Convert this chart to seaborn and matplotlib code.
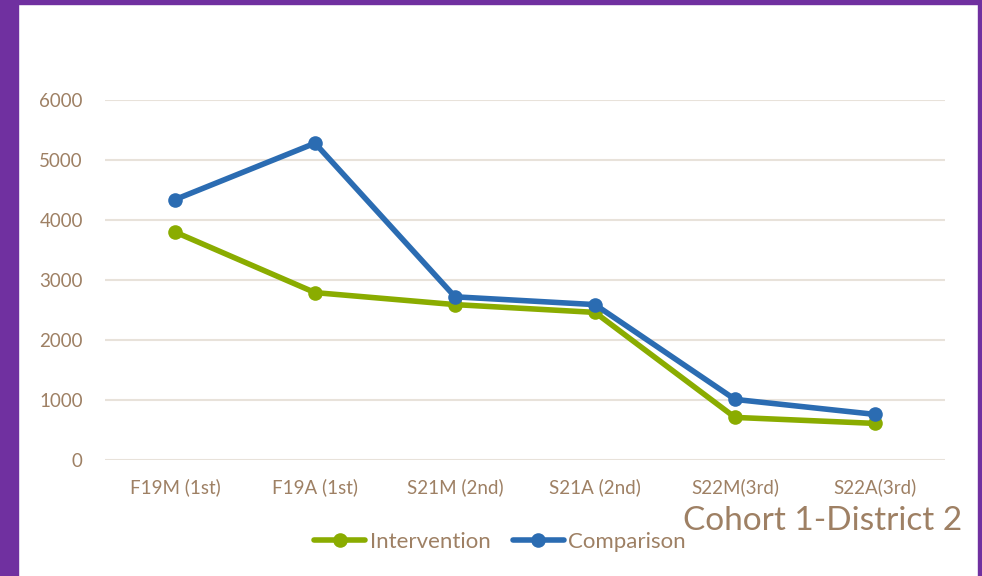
import numpy as np
import pandas as pd
import seaborn as sns
import matplotlib.pyplot as plt
from matplotlib.patches import Rectangle

# Values
categories = ["F19M (1st)", "F19A (1st)", "S21M (2nd)", "S21A (2nd)", "S22M(3rd)", "S22A(3rd)"]
intervention = [3800, 2790, 2590, 2460, 710, 610]
comparison = [4340, 5280, 2720, 2590, 1010, 760]
series_names = ["Intervention", "Comparison"]
y_ticks = [0, 1000, 2000, 3000, 4000, 5000, 6000]

TEXT = "#9E8064"
GRID = "#E8E2DA"
PURPLE = "#7030A0"
palette = {"Intervention": "#8AAC00", "Comparison": "#2B6CB2"}

df = pd.DataFrame({
    "Period": categories * 2,
    "x": list(range(len(categories))) * 2,
    "Value": intervention + comparison,
    "Series": [series_names[0]] * len(categories) + [series_names[1]] * len(categories),
})

sns.set_theme(style="white")
plt.rcParams["font.family"] = ["Lato", "DejaVu Sans"]

fig = plt.figure(figsize=(9.82, 5.76), dpi=100)
ax = fig.add_axes([105 / 982, 116 / 576, 840 / 982, 360 / 576])

sns.lineplot(data=df, x="x", y="Value", hue="Series", palette=palette, ax=ax,
             linewidth=4, marker="o", markersize=10.5, markeredgewidth=0,
             legend=True, clip_on=False, zorder=3)

ax.set_xlim(-0.5, len(categories) - 0.5)
ax.set_ylim(0, 6000)
ax.set_xticks(range(len(categories)))
ax.set_xticklabels(categories)
ax.set_yticks(y_ticks)
ax.set_yticklabels([str(v) for v in y_ticks])
ax.set_xlabel("")
ax.set_ylabel("")
ax.tick_params(axis="x", length=0, pad=13, labelsize=13.5, labelcolor=TEXT)
ax.tick_params(axis="y", length=0, pad=16, labelsize=13.5, labelcolor=TEXT)
ax.grid(axis="y", color=GRID, linewidth=1.5, zorder=0)
ax.set_axisbelow(True)
for s in ax.spines.values():
    s.set_visible(False)

handles, labels = ax.get_legend_handles_labels()
ax.legend_.remove()
leg = fig.legend(handles, labels, loc="center", bbox_to_anchor=(500 / 982, 1 - 542 / 576),
                 ncol=2, frameon=False, fontsize=16, handlelength=2.3,
                 handletextpad=0.2, columnspacing=1.0)
for t in leg.get_texts():
    t.set_color(TEXT)

fig.text(962 / 982, 1 - 521 / 576, "Cohort 1-District 2", ha="right", va="center",
         fontsize=24, color=TEXT)

# purple frame
fig.patches.append(Rectangle((0, 0), 18 / 982, 1, transform=fig.transFigure, color=PURPLE, zorder=10))
fig.patches.append(Rectangle((0, 1 - 4 / 576), 1, 4 / 576, transform=fig.transFigure, color=PURPLE, zorder=10))
fig.patches.append(Rectangle((1 - 4 / 982, 0), 4 / 982, 1, transform=fig.transFigure, color=PURPLE, zorder=10))

fig.savefig("out.png", dpi=100)
